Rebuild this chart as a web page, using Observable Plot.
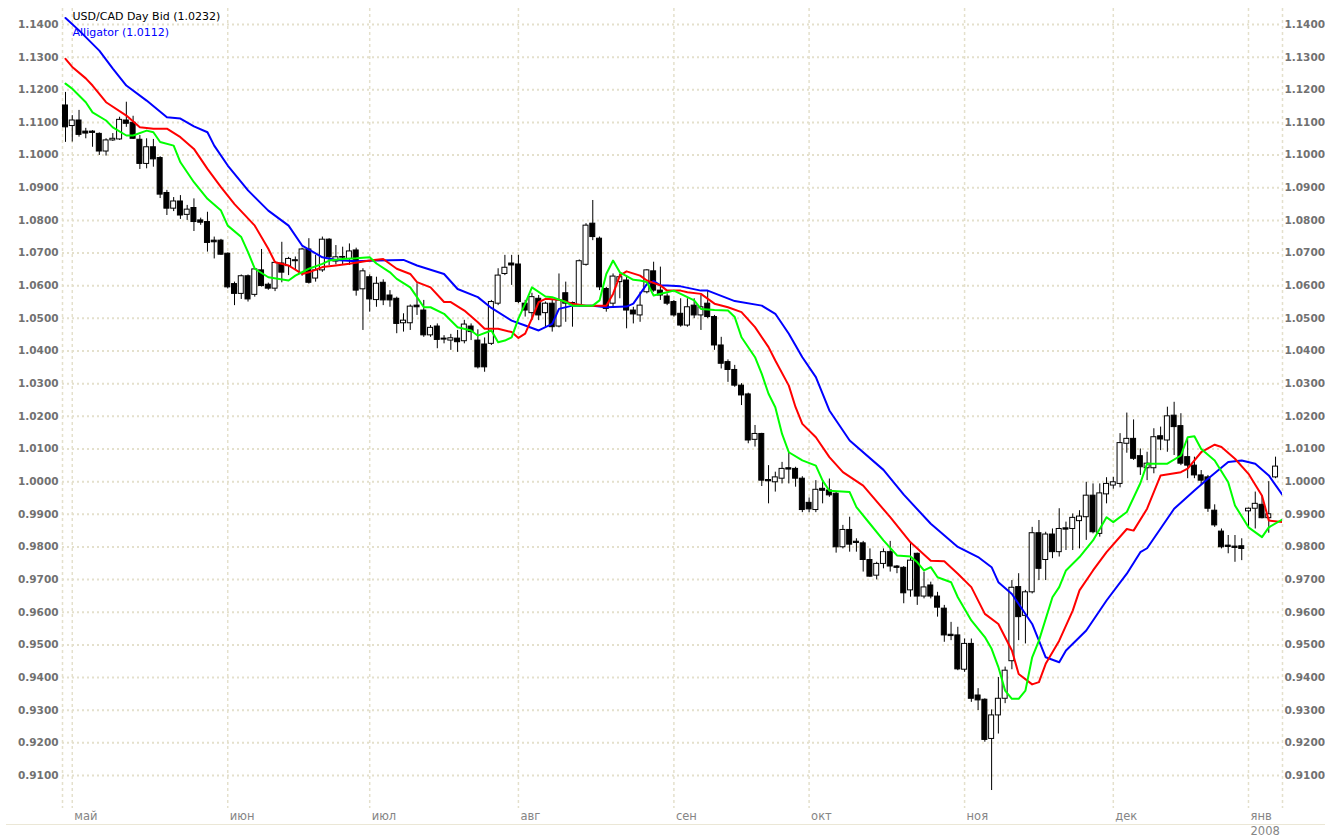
<!DOCTYPE html>
<html><head><meta charset="utf-8">
<script src="https://cdn.jsdelivr.net/npm/d3@7"></script>
<script src="https://cdn.jsdelivr.net/npm/@observablehq/plot@0.6"></script>
<style>
html,body{margin:0;padding:0;background:#fff;}
#chart{position:relative;width:1325px;height:838px;overflow:hidden;background:#fff;}
#sep{position:absolute;left:6px;top:824px;width:1319px;height:1px;background:#ebe7d6;}
</style></head><body><div id="chart"><div id="sep"></div></div>
<script>
// Daily bars (index 0 = 30 Apr 2007)
const open = [1.1152,1.1089,1.1106,1.1072,1.1072,1.1065,1.1011,1.1045,1.1048,1.1106,1.1099,1.1047,1.0973,1.1024,1.0991,1.0884,1.0836,1.0858,1.0817,1.0838,1.0800,1.0795,1.0738,1.0738,1.0698,1.0605,1.0575,1.0629,1.0572,1.0647,1.0603,1.0591,1.0668,1.0660,1.0678,1.0637,1.0711,1.0622,1.0647,1.0741,1.0674,1.0688,1.0682,1.0708,1.0589,1.0626,1.0556,1.0609,1.0570,1.0560,1.0485,1.0485,1.0539,1.0524,1.0448,1.0475,1.0438,1.0432,1.0438,1.0430,1.0475,1.0432,1.0420,1.0422,1.0545,1.0636,1.0668,1.0665,1.0545,1.0516,1.0560,1.0516,1.0545,1.0475,1.0577,1.0547,1.0539,1.0664,1.0790,1.0744,1.0590,1.0545,1.0611,1.0616,1.0524,1.0509,1.0580,1.0644,1.0585,1.0567,1.0550,1.0514,1.0478,1.0539,1.0509,1.0545,1.0504,1.0417,1.0366,1.0342,1.0294,1.0267,1.0128,1.0146,1.0005,0.9998,1.0009,1.0041,1.0039,1.0009,0.9935,0.9913,0.9978,0.9973,0.9963,0.9799,0.9852,0.9816,0.9811,0.9760,0.9712,0.9748,0.9784,0.9740,0.9736,0.9667,0.9779,0.9648,0.9682,0.9648,0.9611,0.9531,0.9529,0.9424,0.9503,0.9345,0.9332,0.9212,0.9284,0.9335,0.9450,0.9677,0.9589,0.9661,0.9842,0.9760,0.9838,0.9784,0.9857,0.9855,0.9879,0.9891,0.9957,0.9840,0.9961,0.9988,0.9993,1.0116,1.0131,1.0078,1.0041,1.0041,1.0139,1.0126,1.0202,1.0170,1.0075,1.0049,1.0019,1.0013,0.9911,0.9847,0.9804,0.9801,0.9802,0.9909,0.9917,0.9929,0.9888,1.0013];
const high = [1.1192,1.1121,1.1137,1.1082,1.1075,1.1068,1.1050,1.1066,1.1116,1.1162,1.1119,1.1060,1.1050,1.1048,1.0995,1.0892,1.0870,1.0876,1.0846,1.0866,1.0807,1.0825,1.0749,1.0742,1.0700,1.0611,1.0633,1.0633,1.0652,1.0711,1.0608,1.0674,1.0733,1.0687,1.0688,1.0715,1.0744,1.0693,1.0749,1.0744,1.0723,1.0718,1.0728,1.0715,1.0652,1.0633,1.0626,1.0618,1.0585,1.0565,1.0514,1.0541,1.0606,1.0555,1.0478,1.0483,1.0447,1.0451,1.0463,1.0494,1.0483,1.0465,1.0440,1.0555,1.0652,1.0693,1.0693,1.0693,1.0555,1.0577,1.0570,1.0550,1.0555,1.0636,1.0611,1.0550,1.0679,1.0790,1.0861,1.0749,1.0595,1.0636,1.0636,1.0631,1.0534,1.0580,1.0649,1.0672,1.0657,1.0575,1.0555,1.0560,1.0560,1.0560,1.0570,1.0585,1.0509,1.0442,1.0373,1.0356,1.0300,1.0271,1.0172,1.0148,1.0049,1.0029,1.0059,1.0090,1.0044,1.0015,0.9950,1.0003,1.0003,1.0008,0.9968,0.9866,0.9891,0.9825,0.9817,0.9794,0.9753,0.9794,0.9817,0.9743,0.9740,0.9814,0.9781,0.9723,0.9692,0.9661,0.9621,0.9569,0.9554,0.9518,0.9518,0.9366,0.9335,0.9301,0.9400,0.9432,0.9697,0.9718,0.9667,0.9860,0.9881,0.9845,0.9855,0.9917,0.9876,0.9901,0.9911,0.9998,0.9993,0.9993,1.0012,1.0013,1.0147,1.0210,1.0189,1.0100,1.0090,1.0162,1.0167,1.0228,1.0243,1.0208,1.0131,1.0075,1.0034,1.0019,0.9929,0.9855,0.9835,0.9835,0.9825,0.9919,0.9968,0.9957,1.0000,1.0075];
const low = [1.1039,1.1040,1.1055,1.1050,1.1024,1.0999,1.0997,1.1042,1.1045,1.1085,1.1048,1.0956,1.0958,1.0963,1.0867,1.0815,1.0827,1.0803,1.0800,1.0766,1.0785,1.0703,1.0682,1.0693,1.0590,1.0539,1.0558,1.0550,1.0565,1.0596,1.0586,1.0582,1.0609,1.0631,1.0647,1.0629,1.0605,1.0611,1.0641,1.0662,1.0664,1.0664,1.0662,1.0568,1.0463,1.0519,1.0534,1.0539,1.0534,1.0453,1.0458,1.0463,1.0509,1.0442,1.0442,1.0407,1.0422,1.0402,1.0396,1.0422,1.0432,1.0345,1.0335,1.0417,1.0539,1.0631,1.0601,1.0545,1.0504,1.0493,1.0493,1.0473,1.0458,1.0471,1.0488,1.0473,1.0534,1.0660,1.0738,1.0585,1.0519,1.0534,1.0560,1.0468,1.0483,1.0488,1.0575,1.0580,1.0555,1.0539,1.0504,1.0473,1.0473,1.0499,1.0463,1.0499,1.0402,1.0345,1.0304,1.0289,1.0233,1.0116,1.0106,0.9985,0.9932,0.9968,0.9993,0.9993,0.9983,0.9905,0.9905,0.9905,0.9932,0.9952,0.9781,0.9794,0.9784,0.9784,0.9723,0.9707,0.9699,0.9733,0.9723,0.9718,0.9626,0.9646,0.9621,0.9641,0.9641,0.9585,0.9508,0.9513,0.9421,0.9416,0.9324,0.9299,0.9202,0.9054,0.9227,0.9320,0.9424,0.9513,0.9503,0.9656,0.9697,0.9697,0.9764,0.9769,0.9789,0.9789,0.9794,0.9820,0.9840,0.9830,0.9932,0.9977,0.9981,1.0087,1.0065,1.0019,1.0003,1.0024,1.0095,1.0090,1.0080,1.0049,1.0009,1.0009,0.9988,0.9906,0.9860,0.9794,0.9779,0.9753,0.9758,0.9860,0.9855,0.9886,0.9842,1.0009];
const close = [1.1085,1.1106,1.1062,1.1066,1.1068,1.1011,1.1045,1.1050,1.1108,1.1096,1.1050,1.0973,1.1024,1.0987,1.0879,1.0836,1.0858,1.0815,1.0833,1.0795,1.0793,1.0731,1.0733,1.0695,1.0595,1.0575,1.0629,1.0558,1.0650,1.0599,1.0591,1.0670,1.0640,1.0682,1.0675,1.0711,1.0609,1.0647,1.0741,1.0687,1.0687,1.0686,1.0705,1.0585,1.0644,1.0558,1.0606,1.0555,1.0555,1.0483,1.0493,1.0536,1.0534,1.0448,1.0471,1.0434,1.0435,1.0439,1.0427,1.0481,1.0458,1.0350,1.0350,1.0550,1.0631,1.0655,1.0662,1.0550,1.0524,1.0565,1.0509,1.0545,1.0473,1.0555,1.0545,1.0543,1.0675,1.0784,1.0749,1.0595,1.0529,1.0628,1.0626,1.0524,1.0512,1.0539,1.0647,1.0585,1.0570,1.0545,1.0509,1.0478,1.0534,1.0509,1.0534,1.0504,1.0417,1.0361,1.0342,1.0294,1.0264,1.0126,1.0146,1.0003,1.0001,1.0013,1.0039,1.0037,1.0009,0.9913,0.9915,0.9975,0.9972,0.9958,0.9799,0.9852,0.9807,0.9812,0.9760,0.9709,0.9748,0.9784,0.9740,0.9736,0.9658,0.9758,0.9648,0.9676,0.9648,0.9614,0.9529,0.9527,0.9425,0.9503,0.9335,0.9330,0.9209,0.9284,0.9335,0.9421,0.9675,0.9585,0.9661,0.9842,0.9733,0.9838,0.9784,0.9855,0.9853,0.9889,0.9893,0.9957,0.9845,0.9964,0.9993,0.9998,1.0118,1.0131,1.0070,1.0044,1.0055,1.0136,1.0129,1.0200,1.0167,1.0055,1.0049,1.0019,1.0003,0.9917,0.9866,0.9799,0.9800,0.9797,0.9794,0.9917,0.9932,0.9888,0.9900,1.0046];

// Alligator lines (bar index, value)
const jawBar = [0,2,5,7,9,12,15,17,19,21,22,24,27,30,33,35,38,40,43,46,50,52,56,58,61,63,66,68,70,72,73,75,78,80,83,84,86,87,88,89,91,94,95,99,103,105,107,109,111,113,116,121,124,128,132,135,137,138,140,143,145,147,148,151,154,157,159,160,164,167,169,172,174,176,178,180];
const jawValue = [1.1420,1.1382,1.1320,1.1265,1.1213,1.1167,1.1116,1.1112,1.1088,1.1070,1.1029,1.0968,1.0892,1.0830,1.0784,1.0723,1.0687,1.0679,1.0675,1.0677,1.0679,1.0662,1.0636,1.0590,1.0565,1.0532,1.0493,1.0478,1.0463,1.0483,1.0529,1.0539,1.0539,1.0534,1.0536,1.0545,1.0605,1.0614,1.0601,1.0601,1.0598,1.0585,1.0585,1.0553,1.0539,1.0514,1.0453,1.0381,1.0320,1.0218,1.0126,1.0036,0.9960,0.9871,0.9800,0.9769,0.9738,0.9692,0.9656,0.9564,0.9462,0.9447,0.9483,0.9544,0.9636,0.9718,0.9784,0.9796,0.9917,0.9973,1.0009,1.0060,1.0065,1.0055,1.0019,0.9960];
const teethBar = [0,1,3,4,6,9,11,13,15,17,19,21,23,25,28,30,31,33,35,36,38,40,42,45,47,49,51,52,54,56,57,59,61,62,64,66,67,68,69,70,71,73,75,77,80,81,82,83,85,86,88,89,91,92,94,96,98,100,102,104,105,107,108,109,111,113,115,118,122,125,128,130,132,134,136,138,140,141,143,144,145,147,149,150,152,154,157,158,160,162,165,166,168,170,171,173,175,177,178,180];
const teethValue = [1.1295,1.1270,1.1235,1.1213,1.1162,1.1121,1.1085,1.1081,1.1081,1.1055,1.1019,1.0958,1.0902,1.0850,1.0784,1.0713,1.0672,1.0662,1.0636,1.0641,1.0657,1.0662,1.0667,1.0677,1.0682,1.0652,1.0636,1.0611,1.0595,1.0550,1.0550,1.0524,1.0488,1.0468,1.0468,1.0458,1.0440,1.0453,1.0500,1.0550,1.0560,1.0557,1.0545,1.0539,1.0539,1.0575,1.0631,1.0644,1.0631,1.0616,1.0601,1.0585,1.0585,1.0580,1.0575,1.0545,1.0534,1.0519,1.0473,1.0412,1.0371,1.0294,1.0228,1.0177,1.0136,1.0075,1.0029,0.9988,0.9891,0.9814,0.9758,0.9756,0.9718,0.9677,0.9595,0.9564,0.9483,0.9411,0.9379,0.9386,0.9442,0.9513,0.9605,0.9667,0.9728,0.9784,0.9855,0.9850,0.9917,1.0019,1.0029,1.0040,1.0090,1.0113,1.0106,1.0070,1.0024,0.9957,0.9881,0.9876];
const lipsBar = [0,1,3,4,6,7,9,10,12,13,14,16,17,19,21,23,24,26,27,28,30,33,34,36,38,39,41,43,45,46,48,49,51,52,53,54,56,58,60,61,63,64,65,66,67,68,69,71,72,74,75,78,79,80,81,82,84,85,86,87,89,90,91,93,94,96,98,99,100,102,103,104,105,106,107,109,111,112,113,116,117,119,121,123,125,126,127,128,129,131,132,134,136,137,138,139,140,141,142,143,144,146,147,148,150,152,154,155,157,159,160,163,165,166,167,168,170,172,173,175,177,178,180];
const lipsValue = [1.1219,1.1203,1.1162,1.1131,1.1106,1.1085,1.1060,1.1060,1.1075,1.1070,1.1040,1.1029,1.0978,1.0917,1.0866,1.0830,1.0784,1.0749,1.0703,1.0652,1.0626,1.0616,1.0631,1.0652,1.0667,1.0677,1.0682,1.0684,1.0687,1.0668,1.0641,1.0621,1.0595,1.0565,1.0534,1.0534,1.0514,1.0473,1.0463,1.0447,1.0463,1.0427,1.0432,1.0442,1.0499,1.0545,1.0595,1.0567,1.0565,1.0550,1.0539,1.0539,1.0555,1.0636,1.0677,1.0641,1.0618,1.0616,1.0611,1.0570,1.0580,1.0585,1.0575,1.0555,1.0529,1.0526,1.0524,1.0504,1.0442,1.0381,1.0330,1.0269,1.0228,1.0146,1.0090,1.0065,1.0049,1.0003,0.9972,0.9968,0.9922,0.9871,0.9820,0.9774,0.9771,0.9753,0.9728,0.9738,0.9707,0.9692,0.9646,0.9575,0.9524,0.9488,0.9432,0.9360,0.9335,0.9335,0.9360,0.9462,0.9513,0.9646,0.9677,0.9728,0.9769,0.9820,0.9891,0.9876,0.9907,0.9995,1.0055,1.0055,1.0080,1.0136,1.0139,1.0100,1.0065,0.9998,0.9927,0.9860,0.9830,0.9860,0.9884];

// Axis ticks
const priceTicks = [0.91,0.92,0.93,0.94,0.95,0.96,0.97,0.98,0.99,1.00,1.01,1.02,1.03,1.04,1.05,1.06,1.07,1.08,1.09,1.10,1.11,1.12,1.13,1.14];
const monthBar = [1,24,45,67,90,110,133,155,175];
const monthLabel = ["май","июн","июл","авг","сен","окт","ноя","дек","янв"];
const yearBar = [175];
const yearLabel = ["2008"];
const titleText = ["USD/CAD Day Bid (1.0232)"];
const indicatorText = ["Alligator (1.0112)"];

const candles = open.map((o, i) => ({i, open: o, high: high[i], low: low[i], close: close[i], up: close[i] >= o}));
const jaw = jawBar.map((b, k) => ({i: b, v: jawValue[k]}));
const teeth = teethBar.map((b, k) => ({i: b, v: teethValue[k]}));
const lips = lipsBar.map((b, k) => ({i: b, v: lipsValue[k]}));

const xDomain = [-0.444, 180.03];
const fmt = d3.format(".4f");
const gridColor = "#e4e0cc";
const labelColor = "#717171";
const font = "'DejaVu Sans', Verdana, sans-serif";

const chart = Plot.plot({
  width: 1325, height: 838,
  marginLeft: 62, marginRight: 43, marginTop: 8, marginBottom: 30,
  style: {background: "transparent", fontFamily: font},
  x: {type: "linear", domain: xDomain, label: null},
  y: {domain: [0.899894, 1.1449], label: null},
  marks: [
    Plot.ruleY(priceTicks, {stroke: gridColor, strokeWidth: 2, strokeDasharray: "2,3"}),
    Plot.ruleX(monthBar.concat(xDomain), {stroke: gridColor, strokeWidth: 1.5, strokeDasharray: "3,3"}),
    Plot.axisY({anchor: "left", label: null, ticks: priceTicks, tickFormat: fmt, tickSize: 0, tickPadding: 4, fontWeight: "bold", fontSize: 10.5, fill: labelColor, fontFamily: font}),
    Plot.axisY({anchor: "right", label: null, ticks: priceTicks, tickFormat: fmt, tickSize: 0, tickPadding: 2, fontWeight: "bold", fontSize: 10.5, fill: labelColor, fontFamily: font}),
    Plot.axisX({anchor: "bottom", label: null, ticks: monthBar, tickFormat: d => monthLabel[monthBar.indexOf(d)], tickSize: 0, tickPadding: 3, textAnchor: "start", dx: 2, fontSize: 11.5, fill: "#858585", fontFamily: font}),
    Plot.axisX({anchor: "bottom", label: null, ticks: yearBar, tickFormat: d => yearLabel[yearBar.indexOf(d)], tickSize: 0, tickPadding: 18, textAnchor: "start", dx: 2, fontSize: 11.5, fill: "#858585", fontFamily: font}),
    Plot.ruleX(candles, {x: "i", y1: "low", y2: "high", stroke: "#000", strokeWidth: 1}),
    Plot.rect(candles, {filter: d => d.up, x1: d => d.i - 0.37, x2: d => d.i + 0.37, y1: "open", y2: "close", fill: "#fff", stroke: "#000", strokeWidth: 1}),
    Plot.rect(candles, {filter: d => !d.up, x1: d => d.i - 0.37, x2: d => d.i + 0.37, y1: "open", y2: "close", fill: "#000", stroke: "#000", strokeWidth: 1}),
    Plot.text(titleText, {text: d => d, frameAnchor: "top-left", dx: 10, dy: 4, textAnchor: "start", lineAnchor: "top", fill: "#000", fontSize: 11, fontFamily: font}),
    Plot.text(indicatorText, {text: d => d, frameAnchor: "top-left", dx: 10, dy: 20, textAnchor: "start", lineAnchor: "top", fill: "#0000ff", fontSize: 11, fontFamily: font}),
    Plot.line(jaw, {x: "i", y: "v", stroke: "#0000ff", strokeWidth: 2, clip: true}),
    Plot.line(teeth, {x: "i", y: "v", stroke: "#ff0000", strokeWidth: 2, clip: true}),
    Plot.line(lips, {x: "i", y: "v", stroke: "#00ff00", strokeWidth: 2, clip: true})
  ]
});
document.getElementById("chart").appendChild(chart);
</script>
</body></html>
